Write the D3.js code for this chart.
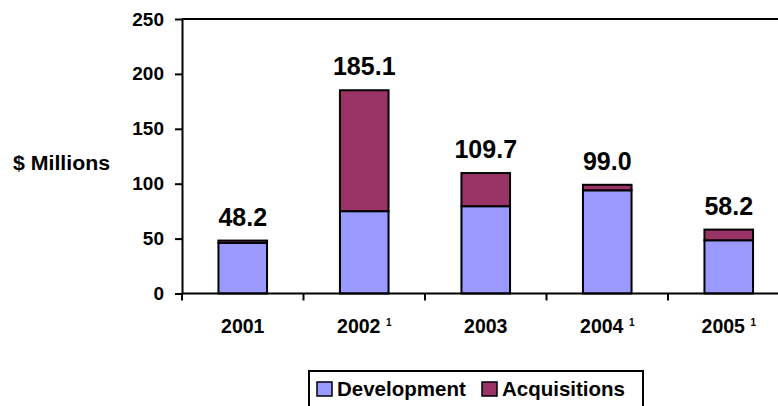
<!DOCTYPE html>
<html>
<head>
<meta charset="utf-8">
<script src="https://cdn.jsdelivr.net/npm/d3@7"></script>
<style>
html,body{margin:0;padding:0;background:#fff;overflow:hidden;}
svg{display:block;font-family:"Liberation Sans",Arial,sans-serif;font-weight:bold;}
</style>
</head>
<body>
<svg id="chart" width="778" height="406"></svg>
<script>
const categories = ["2001", "2002", "2003", "2004", "2005"];
const footnotes = ["", "1", "", "1", "1"];
const development = [46.0, 75.0, 79.5, 94.0, 48.5];
const acquisitions = [2.2, 110.1, 30.2, 5.0, 9.7];
const totalLabels = ["48.2", "185.1", "109.7", "99.0", "58.2"];
const yTicks = [0, 50, 100, 150, 200, 250];
const seriesNames = ["Development", "Acquisitions"];
const seriesColors = ["#9999FF", "#993366"];

const svg = d3.select("#chart");
const plotLeft = 182, plotRight = 789.5, plotTop = 19, plotBottom = 293.5;

const x = d3.scaleBand().domain(categories).range([plotLeft, plotRight]).paddingInner(0.6).paddingOuter(0.3);
const y = d3.scaleLinear().domain([0, 250]).range([plotBottom, plotTop]);

const rows = categories.map((c, i) => ({cat: c, Development: development[i], Acquisitions: acquisitions[i]}));
const stack = d3.stack().keys(seriesNames)(rows);

// bars
stack.forEach((layer, li) => {
  svg.append("g").selectAll("rect").data(layer).join("rect")
    .attr("x", d => x(d.data.cat))
    .attr("width", x.bandwidth())
    .attr("y", d => y(d[1]))
    .attr("height", d => y(d[0]) - y(d[1]))
    .attr("fill", seriesColors[li])
    .attr("stroke", "#000")
    .attr("stroke-width", 2);
});

// top border line at 250
svg.append("line").attr("x1", plotLeft).attr("x2", plotRight)
  .attr("y1", y(250)).attr("y2", y(250)).attr("stroke", "#000").attr("stroke-width", 2);

// y axis
const yAxis = d3.axisLeft(y).tickValues(yTicks).tickSize(7).tickSizeOuter(0).tickPadding(11).tickFormat(d3.format("d"));
const gy = svg.append("g").attr("transform", `translate(${plotLeft},0)`).call(yAxis);
gy.select(".domain").attr("stroke", "#000").attr("stroke-width", 2);
gy.selectAll(".tick line").attr("stroke", "#000").attr("stroke-width", 2);
gy.selectAll(".tick text").attr("font-size", 19).attr("font-weight", "bold")
  .attr("font-family", "Liberation Sans, Arial, sans-serif").attr("fill", "#000");

// x axis line and boundary ticks
svg.append("line").attr("x1", plotLeft).attr("x2", plotRight).attr("y1", plotBottom).attr("y2", plotBottom)
  .attr("stroke", "#000").attr("stroke-width", 2);
const step = x.step();
const boundaries = d3.range(categories.length + 1).map(i => x(categories[0]) - x.paddingOuter() * step + i * step);
svg.append("g").selectAll("line").data(boundaries).join("line")
  .attr("x1", d => d).attr("x2", d => d)
  .attr("y1", plotBottom).attr("y2", plotBottom + 7)
  .attr("stroke", "#000").attr("stroke-width", 2);

// category labels
const cl = svg.append("g").selectAll("text").data(categories).join("text")
  .attr("x", d => x(d) + x.bandwidth() / 2)
  .attr("y", 333)
  .attr("text-anchor", "middle")
  .attr("font-size", 19.5);
cl.append("tspan").text(d => d);
cl.each(function(d, i) {
  if (footnotes[i]) {
    d3.select(this).append("tspan").text("\u00a0");
    d3.select(this).append("tspan").attr("font-size", 10).attr("dy", -7).text(footnotes[i]);
  }
});

// total labels
svg.append("g").selectAll("text").data(categories).join("text")
  .attr("x", d => x(d) + x.bandwidth() / 2)
  .attr("y", (d, i) => y(development[i] + acquisitions[i]) - 15)
  .attr("text-anchor", "middle")
  .attr("font-size", 25)
  .text((d, i) => totalLabels[i]);

// y axis title
svg.append("text").attr("x", 13).attr("y", 169.5).attr("font-size", 20).attr("textLength", 97)
  .attr("lengthAdjust", "spacingAndGlyphs").text("$ Millions");

// legend
const lg = svg.append("g");
lg.append("rect").attr("x", 309).attr("y", 371).attr("width", 334).attr("height", 45)
  .attr("fill", "#fff").attr("stroke", "#000").attr("stroke-width", 2);
const legendX = [317, 482];
seriesNames.forEach((n, i) => {
  lg.append("rect").attr("x", legendX[i]).attr("y", 382).attr("width", 15).attr("height", 14)
    .attr("fill", seriesColors[i]).attr("stroke", "#000").attr("stroke-width", 1.5);
  lg.append("text").attr("x", legendX[i] + 20).attr("y", 396).attr("font-size", 20.5).text(n);
});
</script>
</body>
</html>
